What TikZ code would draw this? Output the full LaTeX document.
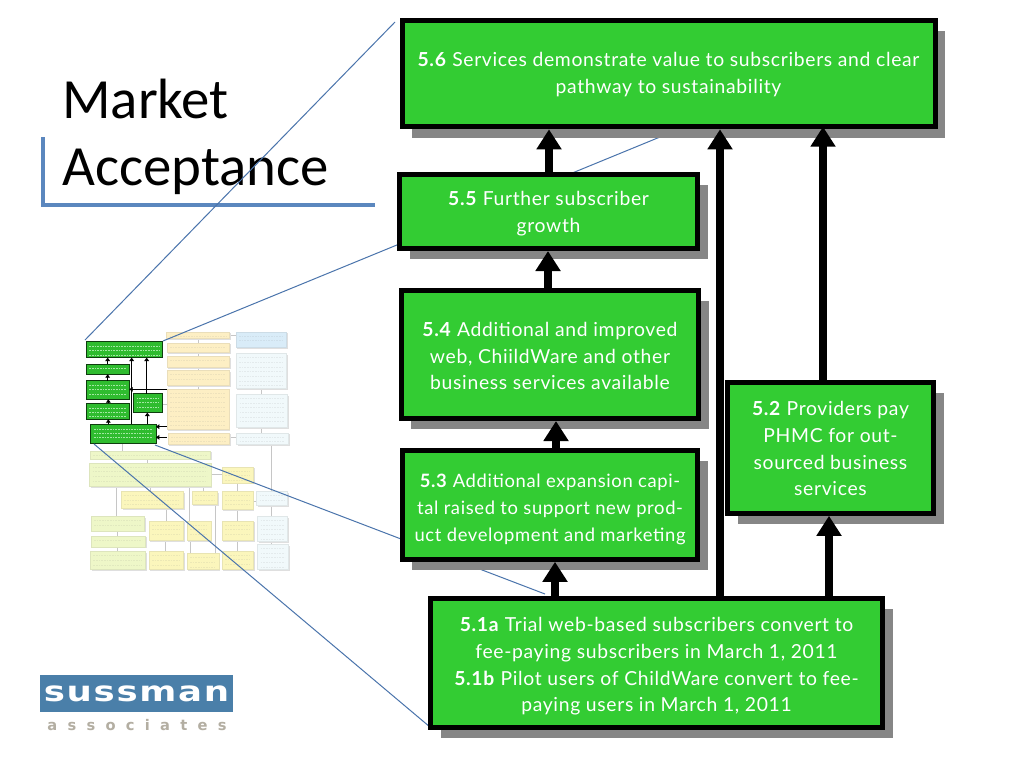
\documentclass[tikz,border=0pt]{standalone}
\usepackage{fontspec}
\setmainfont{Lato}[LetterSpace=3.5]
\newfontfamily\titlefont{Carlito}
\newfontfamily\logofont[FakeStretch=1.27,LetterSpace=6]{DejaVu Sans Bold}
\newfontfamily\logosub[LetterSpace=70]{DejaVu Sans Bold}
\usetikzlibrary{arrows.meta,shadows}
\definecolor{boxgreen}{HTML}{33CC33}
\definecolor{shadowgray}{HTML}{868686}
\definecolor{callout}{HTML}{4A74AC}
\definecolor{accent}{HTML}{5B87BE}
\definecolor{logoblue}{HTML}{4A7FA9}
\definecolor{logogray}{HTML}{B3AEA2}
\definecolor{tgreen}{HTML}{EEF7C8}
\definecolor{torange}{HTML}{FDEFC4}
\definecolor{tyellow}{HTML}{FBF6BC}
\definecolor{tblue}{HTML}{F1F9FB}
\definecolor{tsky}{HTML}{D9ECF8}
\newcommand{\dn}[1]{\rule{0pt}{#1pt}}
\tikzset{
  mainbox/.style={draw=black,line width=3.75pt,fill=boxgreen,text=white,align=center,
    font=\fontsize{14.5}{20}\selectfont,inner sep=0pt,
    drop shadow={shadow xshift=7.5pt,shadow yshift=-8pt,fill=shadowgray,opacity=1}},
  flow/.style={line width=6.5pt,-{Triangle[length=15pt,width=18pt]}},
  flowthin/.style={line width=5.5pt,-{Triangle[length=15pt,width=18pt]}},
  leader/.style={draw=callout,line width=0.75pt},
  tbox/.style={line width=0.2pt,draw=#1!85!gray},
  tline/.style={draw=gray!45,line width=0.75pt},
  tflow/.style={draw=black,line width=1pt,-{Triangle[length=2.5pt,width=3.5pt]}},
  ttext/.style={draw=#1,line width=0.55pt,dash pattern=on 1.3pt off 0.7pt}
}
% thumbnail box: x1 y1 x2 y2 colour
\newcommand{\thumbbox}[5]{%
  \fill[gray!25] (#1+5,#2+5) rectangle (#3+5,#4+5);
  \filldraw[tbox=#5,fill=#5] (#1,#2) rectangle (#3,#4);
  \pgfmathsetmacro{\ty}{#2+13}
  \pgfmathsetmacro{\tstep}{14}
  \pgfmathsetmacro{\tl}{#1+10}
  \pgfmathsetmacro{\tr}{#3-10}
  \foreach \k in {0,...,12}{%
    \pgfmathsetmacro{\yy}{\ty+\k*\tstep}
    \pgfmathparse{\yy<(#4-6)?1:0}
    \ifnum\pgfmathresult>0
      \draw[ttext=#5!88!gray] (\tl,\yy) -- (\tr,\yy);
    \fi}%
}
\newcommand{\thumbgreen}[4]{%
  \filldraw[draw=black!70!boxgreen,line width=0.6pt,fill=boxgreen!92!black] (#1,#2) rectangle (#3,#4);
  \pgfmathsetmacro{\ty}{#2+14}
  \pgfmathsetmacro{\tl}{#1+10}
  \pgfmathsetmacro{\tr}{#3-10}
  \foreach \k in {0,...,5}{%
    \pgfmathsetmacro{\yy}{\ty+\k*13}
    \pgfmathparse{\yy<(#4-5)?1:0}
    \ifnum\pgfmathresult>0
      \draw[ttext=white!55!boxgreen] (\tl,\yy) -- (\tr,\yy);
    \fi}%
}
\begin{document}
\begin{tikzpicture}[x=0.75pt,y=-0.75pt]
\useasboundingbox (0,0) rectangle (1024,768);
\fill[white] (0,0) rectangle (1024,768);

% title
\node[anchor=base west,inner sep=0pt,font=\titlefont\fontsize{42.6}{50}\selectfont] (t1) at (62,118) {Market};
\node[anchor=base west,inner sep=0pt,font=\titlefont\fontsize{42.6}{50}\selectfont] (t2) at (62,185) {Acceptance};
\draw[accent,line width=2.6pt] (43,137) -- (43,205) -- (375,205);

% logo
\node[fill=logoblue,minimum width=144.75pt,minimum height=27.75pt,inner sep=0pt,text=white,
  font=\logofont\fontsize{21}{22}\selectfont] (logo) at (136.5,693.5) {sussman};
\node[inner sep=0pt,text=logogray,font=\logosub\fontsize{11}{12}\selectfont] (logosub) at (137,725) {associates};

% thumbnail
\begin{scope}[shift={(70,320)},x=0.25pt,y=-0.25pt]
  \foreach \a/\b/\c/\d in {
    384/55/384/68,384/97/384/108,384/141/384/150,384/196/384/206,497/45/478/45,
    574/205/574/222,575/322/575/338,499/352/478/352,156/370/156/392,232/416/232/428,
    603/372/603/514,422/464/456/464,502/488/502/513,502/568/502/602,502/660/502/692,
    603/556/603/588,603/664/603/672,548/545/559/545,400/498/400/513,240/498/240/513,
    138/498/138/588,358/498/358/602,435/552/435/700,288/565/288/602,287/660/287/694,
    362/660/362/700,143/632/143/647,143/680/143/694,290/252/277/252}
    {\draw[tline] (\a,\b) -- (\c,\d);}
  \thumbbox{289}{35}{478}{55}{torange}
  \thumbbox{290}{68}{478}{97}{torange}
  \thumbbox{290}{108}{478}{141}{torange}
  \thumbbox{290}{150}{478}{196}{torange}
  \thumbbox{290}{206}{476}{327}{torange}
  \thumbbox{293}{338}{478}{372}{torange}
  \thumbbox{497}{35}{648}{82}{tsky}
  \thumbbox{497}{100}{648}{205}{tblue}
  \thumbbox{499}{222}{652}{322}{tblue}
  \thumbbox{499}{338}{654}{372}{tblue}
  \thumbbox{60}{392}{420}{416}{tgreen}
  \thumbbox{58}{428}{422}{498}{tgreen}
  \thumbbox{62}{588}{223}{632}{tgreen}
  \thumbbox{62}{647}{226}{680}{tgreen}
  \thumbbox{60}{694}{226}{748}{tgreen}
  \thumbbox{153}{513}{340}{565}{tyellow}
  \thumbbox{365}{513}{442}{552}{tyellow}
  \thumbbox{456}{440}{550}{488}{tyellow}
  \thumbbox{455}{513}{548}{568}{tyellow}
  \thumbbox{236}{602}{340}{660}{tyellow}
  \thumbbox{350}{602}{422}{660}{tyellow}
  \thumbbox{455}{602}{550}{660}{tyellow}
  \thumbbox{236}{694}{340}{748}{tyellow}
  \thumbbox{350}{700}{446}{748}{tyellow}
  \thumbbox{455}{692}{550}{748}{tyellow}
  \thumbbox{559}{514}{652}{556}{tblue}
  \thumbbox{562}{588}{652}{664}{tblue}
  \thumbbox{562}{672}{654}{748}{tblue}
  \thumbgreen{48}{65}{277}{113}
  \thumbgreen{48}{132}{177}{163}
  \thumbgreen{48}{182}{178}{238}
  \thumbgreen{48}{250}{178}{298}
  \thumbgreen{190}{221}{277}{278}
  \thumbgreen{62}{313}{258}{370}
  \draw[tflow] (113,132) -- (113,113);
  \draw[tflow] (113,182) -- (113,163);
  \draw[tflow] (115,250) -- (115,238);
  \draw[tflow] (115,313) -- (115,298);
  \draw[tflow] (185,313) -- (185,113);
  \draw[tflow] (232,313) -- (232,278);
  \draw[tflow] (230,221) -- (230,113);
  \draw[tflow] (290,208) -- (178,208);
  \draw[tflow] (290,320) -- (258,320);
  \draw[tflow] (290,352) -- (258,352);
\end{scope}

% callout lines
\coordinate (tc1) at (85,340);
\coordinate (tc2) at (163,341);
\coordinate (tc3) at (155,445);
\coordinate (tc4) at (94,444);
\coordinate (ec1) at (395,22);
\coordinate (ec2) at (660,137);
\coordinate (ec3) at (545,594);
\coordinate (ec4) at (430,727);
\draw[leader] (tc1) -- (ec1);
\draw[leader] (tc2) -- (ec2);
\draw[leader] (tc3) -- (ec3);
\draw[leader] (tc4) -- (ec4);

% main boxes (centre-line sizes)
\node[mainbox,minimum width=399.75pt,minimum height=80pt] (s56) at (668.5,73.5)
  {\dn{12}\textbf{5.6} Services demonstrate value to subscribers and clear\\pathway to sustainability};
\node[mainbox,minimum width=223.5pt,minimum height=55.5pt] (s55) at (548.5,211.5)
  {\dn{14}\textbf{5.5} Further subscriber\\growth};
\node[mainbox,minimum width=223pt,minimum height=96pt] (s54) at (550,354.5)
  {\dn{13}\textbf{5.4} Additional and improved\\web, ChiildWare and other\\business services available};
\node[mainbox,minimum width=221.5pt,minimum height=81.5pt,font=\fontsize{13.8}{20}\selectfont] (s53) at (550,505)
  {\dn{17}\textbf{5.3} Additional expansion capi-\\tal raised to support new prod-\\uct development and marketing};
\node[mainbox,minimum width=154.5pt,minimum height=98pt] (s52) at (830.5,448)
  {\dn{12}\textbf{5.2} Providers pay\\PHMC for out-\\sourced business\\services};
\node[mainbox,minimum width=339pt,minimum height=96.5pt] (s51) at (656.5,663)
  {\dn{16}\textbf{5.1a} Trial web-based subscribers convert to\\fee-paying subscribers in March 1, 2011\\\textbf{5.1b} Pilot users of ChildWare convert to fee-\\paying users in March 1, 2011};

% arrows
\draw[flow] (s55.north -| 549,0) -- (s56.south -| 549,0);
\draw[flow] (s54.north -| 548,0) -- (s55.south -| 548,0);
\draw[flow] (s53.north -| 556,0) -- (s54.south -| 556,0);
\draw[flow] (s51.north -| 555,0) -- (s53.south -| 555,0);
\draw[flowthin] (s51.north -| 720,0) -- (s56.south -| 720,0);
\draw[flow] (s51.north -| 829,0) -- (s52.south -| 829,0);
\draw[flowthin] (s52.north -| 823,0) -- ([yshift=2pt]s56.south -| 823,0);
\end{tikzpicture}
\end{document}
